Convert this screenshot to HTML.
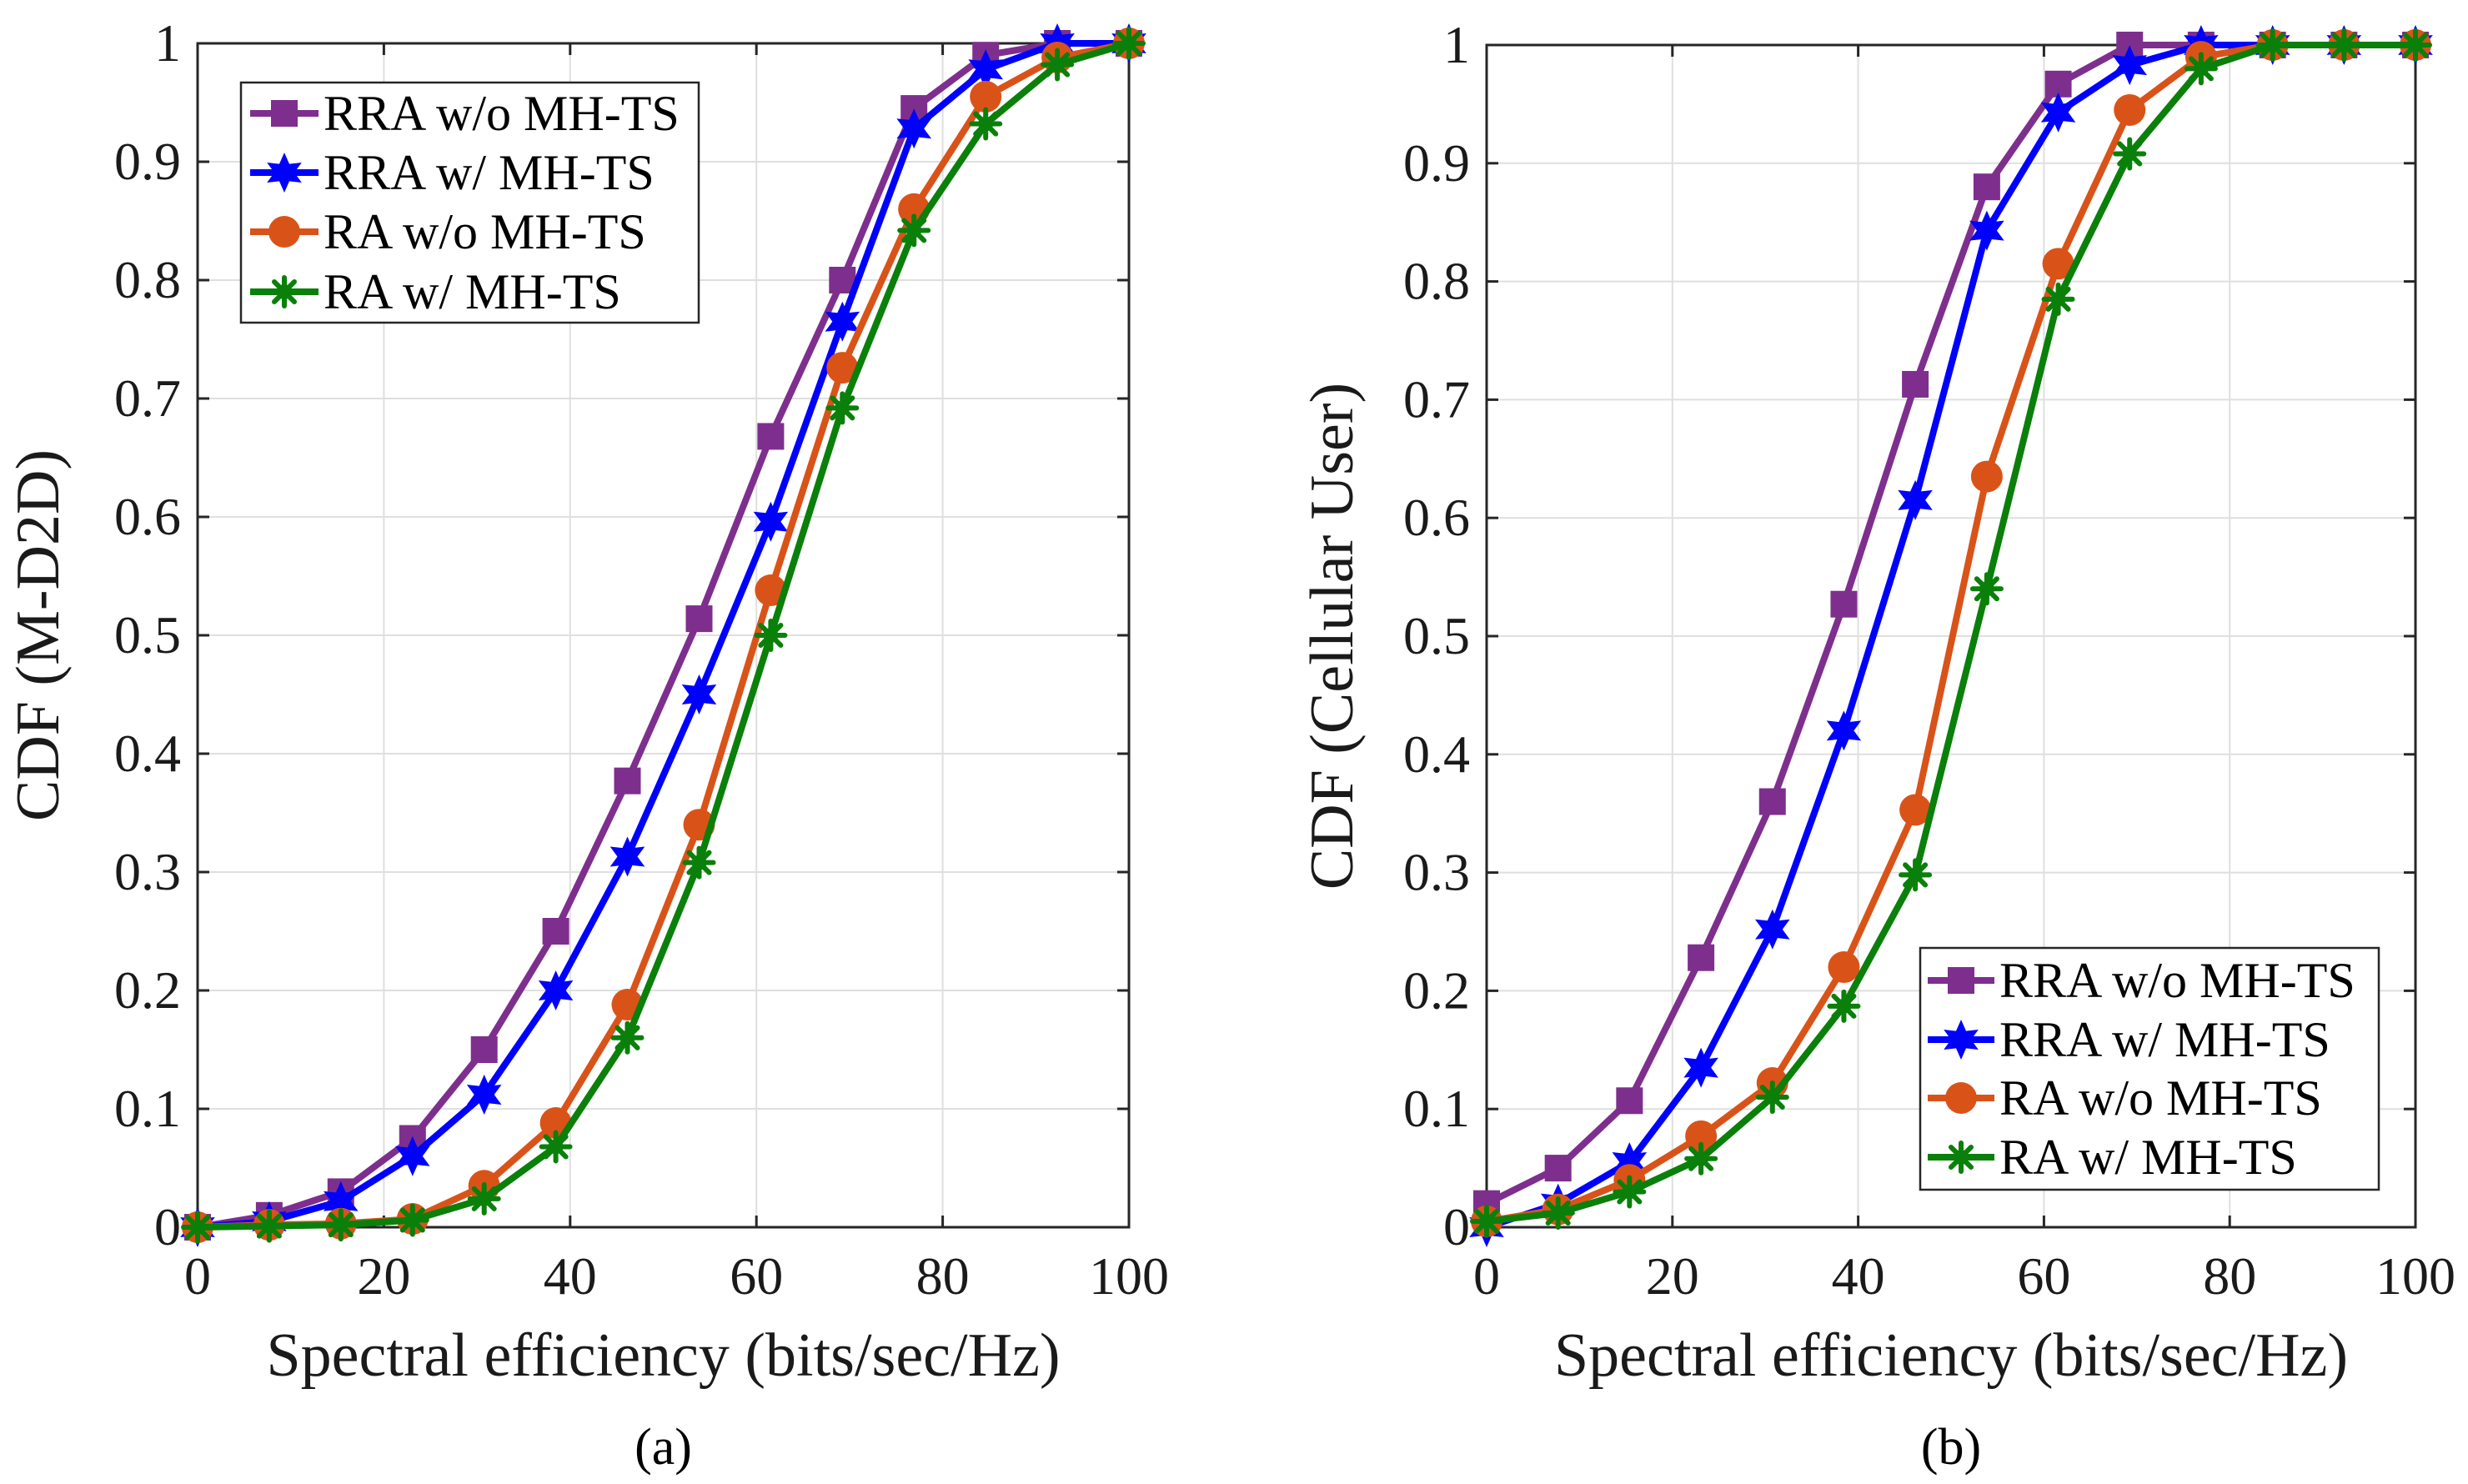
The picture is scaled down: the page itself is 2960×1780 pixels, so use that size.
<!DOCTYPE html>
<html><head><meta charset="utf-8"><style>
html,body{margin:0;padding:0;background:#fff;}
svg{display:block;font-family:"Liberation Serif",serif;}
</style></head><body>
<svg id="fig" width="2960" height="1780" viewBox="0 0 2960 1780"></svg>
<script>
const xs = [0,7.69,15.38,23.08,30.77,38.46,46.15,53.85,61.54,69.23,76.92,84.62,92.31,100];
const seriesNames = ["RRA w/o MH-TS","RRA w/ MH-TS","RA w/o MH-TS","RA w/ MH-TS"];
const a_rraWo = [0,0.01,0.03,0.075,0.15,0.25,0.377,0.514,0.668,0.80,0.945,0.99,1,1];
const a_rraW  = [0,0.005,0.022,0.06,0.112,0.2,0.313,0.45,0.596,0.765,0.928,0.978,1,1];
const a_raWo  = [0,0.002,0.003,0.007,0.035,0.088,0.188,0.34,0.538,0.726,0.86,0.955,0.988,1];
const a_raW   = [0,0.001,0.002,0.006,0.024,0.068,0.16,0.308,0.5,0.692,0.842,0.932,0.982,1];
const b_rraWo = [0.02,0.05,0.107,0.228,0.36,0.527,0.713,0.88,0.967,1,1,1,1,1];
const b_rraW  = [0,0.02,0.055,0.135,0.252,0.42,0.615,0.843,0.943,0.983,1,1,1,1];
const b_raWo  = [0.005,0.015,0.04,0.077,0.122,0.22,0.353,0.635,0.815,0.945,0.99,1,1,1];
const b_raW   = [0.005,0.012,0.03,0.058,0.11,0.187,0.298,0.54,0.785,0.908,0.98,1,1,1];
const xTicks = [0,20,40,60,80,100];
const yTicks = [0,0.1,0.2,0.3,0.4,0.5,0.6,0.7,0.8,0.9,1];
const yTickLabels = ["0","0.1","0.2","0.3","0.4","0.5","0.6","0.7","0.8","0.9","1"];

const NS="http://www.w3.org/2000/svg";
const svg=document.getElementById('fig');
function mk(tag,attrs,parent){const e=document.createElementNS(NS,tag);for(const k in attrs)e.setAttribute(k,attrs[k]);(parent||svg).appendChild(e);return e;}
const colors=["#7E2F8E","#0000FF","#D95319","#0A800A"];
const shapes=["square","star","circle","asterisk"];

function marker(g,shape,x,y,c){
  let m;
  if(shape==="square"){m=mk('rect',{x:x-16,y:y-16,width:32,height:32,fill:c},g);}
  else if(shape==="circle"){m=mk('circle',{cx:x,cy:y,r:19,fill:c},g);}
  else if(shape==="star"){
    const r1=24,r2=12;let p=[];
    for(let i=0;i<12;i++){const r=i%2?r2:r1;const a=-Math.PI/2+i*Math.PI/6;p.push((x+r*Math.cos(a)).toFixed(1)+","+(y+r*Math.sin(a)).toFixed(1));}
    m=mk('polygon',{points:p.join(" "),fill:c},g);
  } else {
    m=mk('g',{stroke:c,'stroke-width':6,'stroke-linecap':'round'},g);
    const r=17;
    for(let i=0;i<4;i++){const a=i*Math.PI/4;mk('line',{x1:x-r*Math.cos(a),y1:y-r*Math.sin(a),x2:x+r*Math.cos(a),y2:y+r*Math.sin(a)},m);}
    mk('circle',{cx:x,cy:y,r:9,fill:c,stroke:'none'},m);
  }
  return m;
}

function panel(opt){
  const g=mk('g',{});
  
  
  const X=v=>opt.x0+(opt.x1-opt.x0)*v/100;
  const Y=v=>opt.y0+(opt.y1-opt.y0)*v;
  xTicks.forEach(t=>{const l=mk('line',{x1:X(t),x2:X(t),y1:opt.y1,y2:opt.y0,stroke:'#dfdfdf','stroke-width':2},g);
    });
  yTicks.forEach(t=>{const l=mk('line',{x1:opt.x0,x2:opt.x1,y1:Y(t),y2:Y(t),stroke:'#dfdfdf','stroke-width':2},g);
    });
  const box=mk('rect',{x:opt.x0,y:opt.y1,width:opt.x1-opt.x0,height:opt.y0-opt.y1,fill:'none',stroke:'#262626','stroke-width':3},g);
  
  xTicks.forEach(t=>{
    mk('line',{x1:X(t),x2:X(t),y1:opt.y0,y2:opt.y0-14,stroke:'#262626','stroke-width':3},g);
    mk('line',{x1:X(t),x2:X(t),y1:opt.y1,y2:opt.y1+14,stroke:'#262626','stroke-width':3},g);
    const tx=mk('text',{x:X(t),y:opt.y0+80,'text-anchor':'middle','font-size':64,fill:'#1a1a1a'},g);
    tx.textContent=t;
  });
  yTicks.forEach((t,i)=>{
    mk('line',{x1:opt.x0,x2:opt.x0+14,y1:Y(t),y2:Y(t),stroke:'#262626','stroke-width':3},g);
    mk('line',{x1:opt.x1,x2:opt.x1-14,y1:Y(t),y2:Y(t),stroke:'#262626','stroke-width':3},g);
    const tx=mk('text',{x:opt.x0-20,y:Y(t)+21,'text-anchor':'end','font-size':64,fill:'#1a1a1a'},g);
    tx.textContent=yTickLabels[i];
  });
  const xl=mk('text',{x:(opt.x0+opt.x1)/2,y:opt.y0+178,'text-anchor':'middle','font-size':74,fill:'#1a1a1a'},g);
  xl.textContent="Spectral efficiency (bits/sec/Hz)";
  const yl=mk('text',{x:0,y:0,'text-anchor':'middle','font-size':74,fill:'#1a1a1a',transform:`translate(${opt.ylx},${(opt.y0+opt.y1)/2}) rotate(-90)`},g);
  yl.textContent=opt.ylabel;
  const cap=mk('text',{x:(opt.x0+opt.x1)/2,y:1756,'text-anchor':'middle','font-size':62,fill:'#000'},g);
  cap.textContent=opt.caption;
  opt.data.forEach((d,si)=>{
    const sg=mk('g',{},g);
    
    
    const pl=mk('polyline',{points:d.map((v,i)=>X(xs[i])+","+Y(v)).join(" "),fill:'none',stroke:colors[si],'stroke-width':8,'stroke-linejoin':'round'},sg);
    
    d.forEach((v,i)=>{const m=marker(sg,shapes[si],X(xs[i]),Y(v),colors[si]);
      });
  });
  const L=opt.legend;
  const lg=mk('g',{},g);
  
  mk('rect',{x:L.x,y:L.y,width:L.w,height:L.h,fill:'#fff',stroke:'#262626','stroke-width':2.5},lg);
  seriesNames.forEach((n,si)=>{
    const ry=L.rows[si];
    const e=mk('g',{},lg);
    
    mk('line',{x1:L.lx1,x2:L.lx2,y1:ry,y2:ry,stroke:colors[si],'stroke-width':8},e);
    marker(e,shapes[si],(L.lx1+L.lx2)/2,ry,colors[si]);
    const t=mk('text',{x:L.tx,y:ry+20,'font-size':60,fill:'#000'},e);t.textContent=n;
  });
}
panel({name:'panel-a',x0:237,x1:1354,y0:1472,y1:52,ylx:70,ylabel:"CDF (M-D2D)",caption:"(a)",
  data:[a_rraWo,a_rraW,a_raWo,a_raW],
  legend:{x:289,y:99,w:549,h:288,rows:[136,207,278,350],lx1:300,lx2:382,tx:388}});
panel({name:'panel-b',x0:1783,x1:2897,y0:1472,y1:54,ylx:1622,ylabel:"CDF (Cellular User)",caption:"(b)",
  data:[b_rraWo,b_rraW,b_raWo,b_raW],
  legend:{x:2303,y:1137,w:550,h:290,rows:[1176,1247,1317,1388],lx1:2312,lx2:2392,tx:2398}});
</script>
</body></html>
